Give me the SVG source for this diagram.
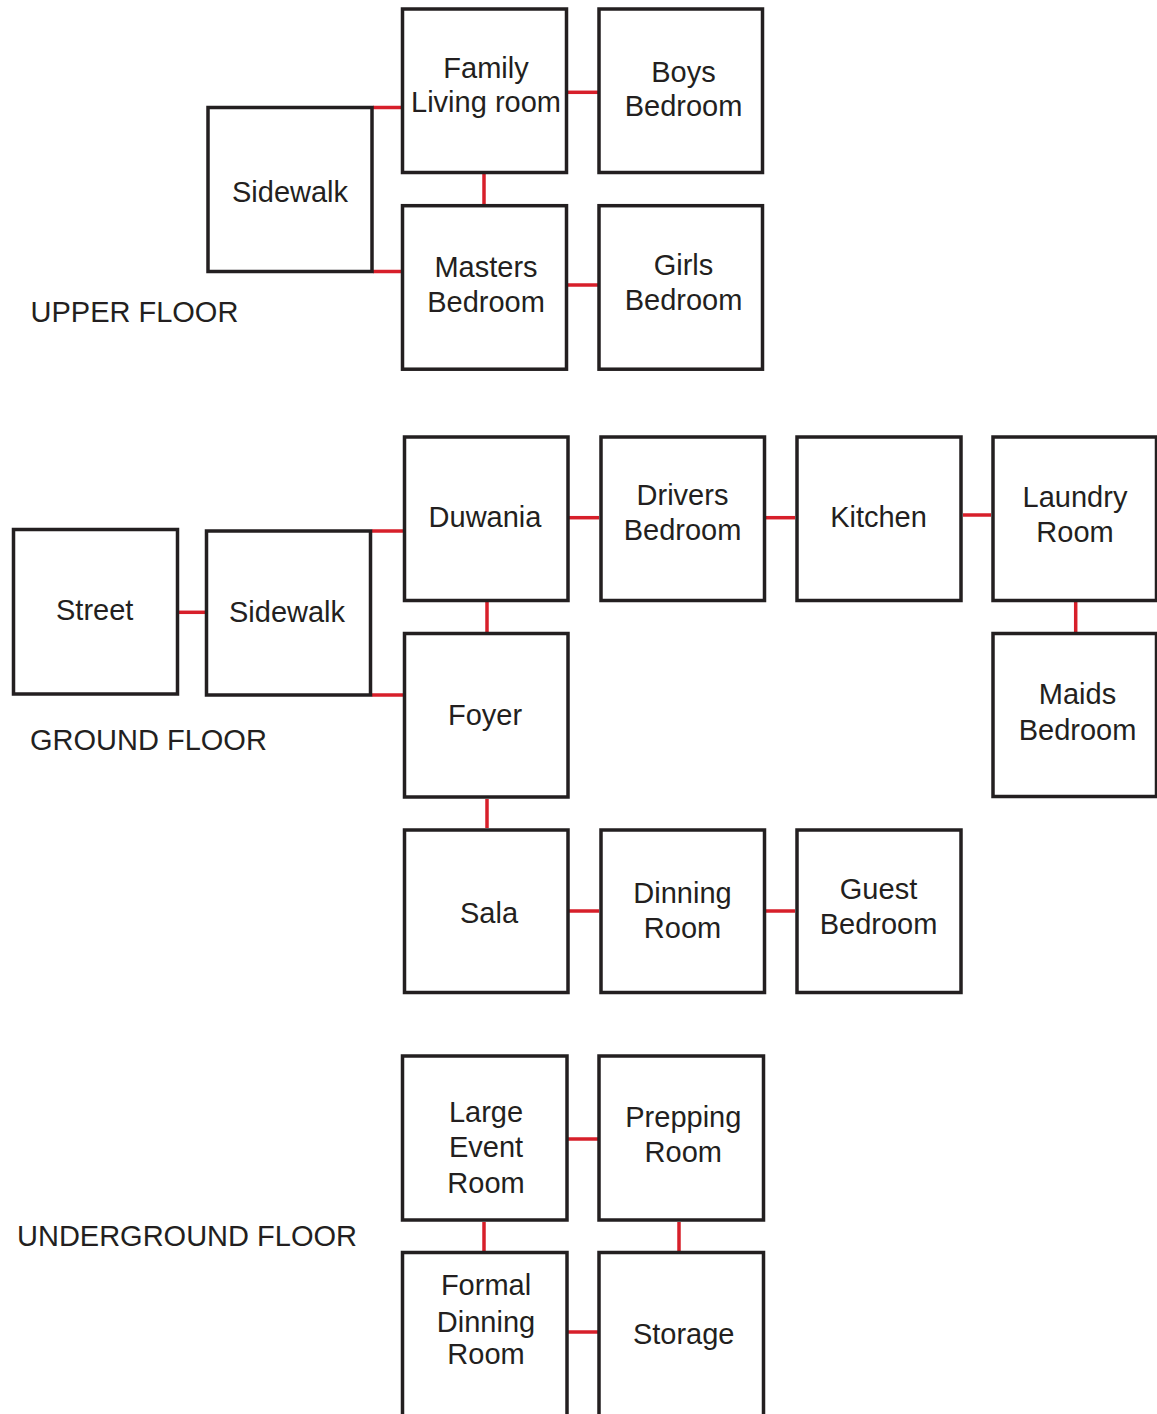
<svg xmlns="http://www.w3.org/2000/svg" width="1157" height="1414" viewBox="0 0 1157 1414">
<style>
.box{fill:#ffffff;stroke:#231f20;stroke-width:3.5}
.t{font-family:"Liberation Sans",Arial,sans-serif;font-size:29px;fill:#231f20;text-anchor:middle}
.lbl{font-family:"Liberation Sans",Arial,sans-serif;font-size:29px;fill:#231f20}
.c{stroke:#d71f2a;stroke-width:3.5;fill:none}
</style>
<rect width="1157" height="1414" fill="#ffffff"/>
<g id="connectors">
<line class="c" x1="373" y1="107.5" x2="401" y2="107.5"/>
<line class="c" x1="373" y1="271.5" x2="401" y2="271.5"/>
<line class="c" x1="484" y1="174" x2="484" y2="204"/>
<line class="c" x1="568" y1="92.3" x2="598" y2="92.3"/>
<line class="c" x1="568" y1="285" x2="598" y2="285"/>
<line class="c" x1="179" y1="612.3" x2="205" y2="612.3"/>
<line class="c" x1="372" y1="531" x2="403" y2="531"/>
<line class="c" x1="372" y1="695" x2="403" y2="695"/>
<line class="c" x1="487" y1="602" x2="487" y2="632"/>
<line class="c" x1="569" y1="517.7" x2="599" y2="517.7"/>
<line class="c" x1="766" y1="517.7" x2="795" y2="517.7"/>
<line class="c" x1="963" y1="515" x2="991" y2="515"/>
<line class="c" x1="1075.7" y1="602" x2="1075.7" y2="632"/>
<line class="c" x1="487" y1="799" x2="487" y2="828"/>
<line class="c" x1="569" y1="911" x2="599" y2="911"/>
<line class="c" x1="766" y1="911" x2="795" y2="911"/>
<line class="c" x1="568" y1="1139" x2="598" y2="1139"/>
<line class="c" x1="484" y1="1222" x2="484" y2="1251"/>
<line class="c" x1="679" y1="1222" x2="679" y2="1251"/>
<line class="c" x1="568" y1="1332" x2="598" y2="1332"/>
</g>
<g id="upper-floor-label"><text class="lbl" x="30.5" y="321.7">UPPER FLOOR</text></g>
<g id="ground-floor-label"><text class="lbl" x="30" y="750">GROUND FLOOR</text></g>
<g id="underground-floor-label"><text class="lbl" x="17" y="1246">UNDERGROUND FLOOR</text></g>
<g id="upper-sidewalk"><rect class="box" x="208" y="107.5" width="164" height="164"/><text class="t" x="290" y="201.7">Sidewalk</text></g>
<g id="family-living-room"><rect class="box" x="402.5" y="9" width="164" height="163.5"/><text class="t" x="486" y="77.7">Family</text><text class="t" x="486" y="112">Living room</text></g>
<g id="boys-bedroom"><rect class="box" x="599" y="9" width="163.5" height="163.5"/><text class="t" x="683.5" y="81.7">Boys</text><text class="t" x="683.5" y="116">Bedroom</text></g>
<g id="masters-bedroom"><rect class="box" x="402.5" y="205.7" width="164" height="163.5"/><text class="t" x="486" y="276.7">Masters</text><text class="t" x="486" y="311.7">Bedroom</text></g>
<g id="girls-bedroom"><rect class="box" x="599" y="205.7" width="163.5" height="163.5"/><text class="t" x="683.5" y="275">Girls</text><text class="t" x="683.5" y="310">Bedroom</text></g>
<g id="street"><rect class="box" x="13.5" y="529.5" width="164" height="164.5"/><text class="t" x="94.7" y="620">Street</text></g>
<g id="ground-sidewalk"><rect class="box" x="206.5" y="531" width="164" height="164"/><text class="t" x="287" y="621.7">Sidewalk</text></g>
<g id="duwania"><rect class="box" x="404.5" y="437" width="163.5" height="163.5"/><text class="t" x="485" y="526.7">Duwania</text></g>
<g id="drivers-bedroom"><rect class="box" x="601" y="437" width="163.5" height="163.5"/><text class="t" x="682.5" y="505">Drivers</text><text class="t" x="682.5" y="540">Bedroom</text></g>
<g id="kitchen"><rect class="box" x="797" y="437" width="164" height="163.5"/><text class="t" x="878.5" y="526.7">Kitchen</text></g>
<g id="laundry-room"><rect class="box" x="993" y="437" width="163.5" height="163.5"/><text class="t" x="1075" y="507.3">Laundry</text><text class="t" x="1075" y="541.7">Room</text></g>
<g id="maids-bedroom"><rect class="box" x="993" y="633.5" width="163.5" height="163"/><text class="t" x="1077.5" y="704.3">Maids</text><text class="t" x="1077.5" y="740">Bedroom</text></g>
<g id="foyer"><rect class="box" x="404.5" y="633.5" width="163.5" height="163.5"/><text class="t" x="485" y="725">Foyer</text></g>
<g id="sala"><rect class="box" x="404.5" y="830" width="163.5" height="162.5"/><text class="t" x="489" y="922.7">Sala</text></g>
<g id="dinning-room"><rect class="box" x="601" y="830" width="163.5" height="162.5"/><text class="t" x="682.5" y="903.3">Dinning</text><text class="t" x="682.5" y="937.7">Room</text></g>
<g id="guest-bedroom"><rect class="box" x="797" y="830" width="164" height="162.5"/><text class="t" x="878.5" y="899">Guest</text><text class="t" x="878.5" y="934">Bedroom</text></g>
<g id="large-event-room"><rect class="box" x="402.5" y="1056" width="164.5" height="164"/><text class="t" x="486" y="1121.7">Large</text><text class="t" x="486" y="1156.7">Event</text><text class="t" x="486" y="1192.7">Room</text></g>
<g id="prepping-room"><rect class="box" x="599" y="1056" width="164.5" height="164"/><text class="t" x="683.3" y="1126.7">Prepping</text><text class="t" x="683.3" y="1161.7">Room</text></g>
<g id="formal-dinning-room"><rect class="box" x="402.5" y="1252.5" width="164.5" height="164"/><text class="t" x="486" y="1295">Formal</text><text class="t" x="486" y="1331.7">Dinning</text><text class="t" x="486" y="1364">Room</text></g>
<g id="storage"><rect class="box" x="599" y="1252.5" width="164.5" height="164"/><text class="t" x="683.7" y="1344.3">Storage</text></g>
</svg>
